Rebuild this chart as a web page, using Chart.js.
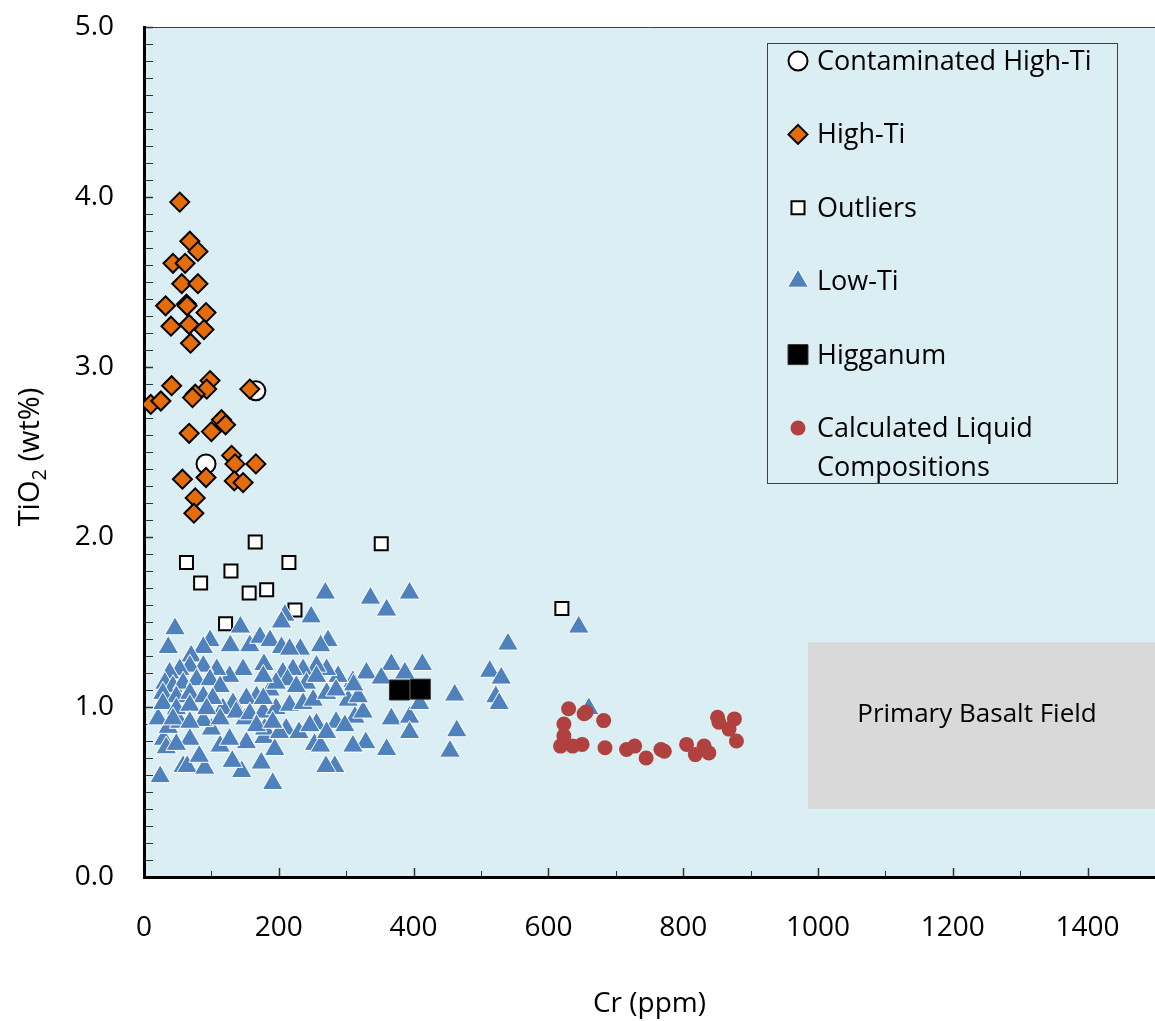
<!DOCTYPE html>
<html>
<head>
<meta charset="utf-8">
<script src="https://cdn.jsdelivr.net/npm/chart.js"></script>
<style>
  html, body { margin: 0; padding: 0; background: #fff; }
  #wrap { width: 1155px; height: 1021px; position: relative; }
</style>
</head>
<body>
<div id="wrap"><canvas id="grafico"></canvas></div>
<script>
// Dados (Cr ppm, TiO2 wt%)
const contamCr   = [166, 92];
const contamTiO2 = [2.86, 2.43];

const highTiCr   = [53, 68, 80, 43, 61, 56, 80, 32, 63, 64, 92, 40, 67, 89, 69, 41, 98, 93, 76, 72, 157, 10, 25, 115, 121, 100, 67, 130, 135, 166, 92, 57, 134, 147, 76, 74];
const highTiTiO2 = [3.97, 3.74, 3.68, 3.61, 3.61, 3.49, 3.49, 3.36, 3.37, 3.36, 3.32, 3.24, 3.25, 3.22, 3.14, 2.89, 2.92, 2.87, 2.84, 2.82, 2.87, 2.78, 2.80, 2.69, 2.66, 2.62, 2.61, 2.48, 2.43, 2.43, 2.35, 2.34, 2.33, 2.32, 2.23, 2.14];

const outlierCr   = [165, 63, 84, 129, 156, 182, 215, 224, 121, 352, 620];
const outlierTiO2 = [1.97, 1.85, 1.73, 1.80, 1.67, 1.69, 1.85, 1.57, 1.49, 1.96, 1.58];

const lowTiCr = [269, 336, 394, 360, 248, 209, 204, 46, 143, 540, 36, 98, 88, 128, 157, 172, 187, 204, 232, 216,
  273, 262, 70, 178, 513, 530, 522, 527, 367, 413, 387, 330, 352, 310, 461, 367, 394, 409, 394, 464,
  454, 360, 329, 310, 283, 270, 191, 145, 131, 174, 24, 58, 64, 90, 82, 152, 178, 194, 253, 262,
  68, 29, 33, 48, 21, 36, 53, 113, 100, 88, 127, 150, 179, 211, 201, 230, 256, 285, 313, 325,
  303, 318, 311, 288, 271, 256, 236, 221, 206, 213, 187, 167, 152, 132, 117, 137, 157, 177, 196, 216,
  236, 251, 271, 285, 241, 256, 226, 196, 177, 147, 127, 108, 88, 68, 53, 38, 31, 43, 58, 78,
  98, 113, 28, 48, 68, 88, 102, 28, 48, 68, 93, 43, 68, 113, 167, 191, 246, 271, 298, 177,
  645, 660];
const lowTiTiO2 = [1.67, 1.64, 1.67, 1.57, 1.53, 1.54, 1.50, 1.46, 1.47, 1.37, 1.35, 1.39, 1.35, 1.36, 1.36, 1.41, 1.39, 1.35, 1.34, 1.34,
  1.39, 1.36, 1.30, 1.25, 1.21, 1.17, 1.06, 1.02, 1.25, 1.25, 1.20, 1.20, 1.17, 1.15, 1.07, 0.93, 0.94, 1.02, 0.85, 0.86,
  0.74, 0.75, 0.79, 0.77, 0.65, 0.65, 0.55, 0.62, 0.68, 0.67, 0.59, 0.65, 0.65, 0.64, 0.71, 0.79, 0.82, 0.75, 0.78, 0.77,
  0.81, 0.81, 0.76, 0.78, 0.93, 0.88, 0.91, 0.77, 0.87, 0.92, 0.81, 0.93, 0.87, 0.87, 0.85, 0.85, 0.90, 0.91, 0.94, 0.97,
  1.04, 1.06, 1.13, 1.18, 1.22, 1.24, 1.22, 1.22, 1.20, 1.16, 1.10, 1.06, 1.05, 1.02, 0.99, 0.97, 0.96, 0.97, 0.99, 1.01,
  1.02, 1.04, 1.08, 1.10, 1.14, 1.18, 1.12, 1.14, 1.18, 1.22, 1.18, 1.22, 1.24, 1.24, 1.22, 1.20, 1.14, 1.12, 1.14, 1.16,
  1.16, 1.12, 1.08, 1.06, 1.08, 1.06, 1.05, 1.02, 0.99, 1.01, 0.99, 0.93, 0.91, 0.93, 0.89, 0.91, 0.89, 0.85, 0.89, 1.05,
  1.47, 0.99];

const higganumCr   = [379, 410];
const higganumTiO2 = [1.10, 1.105];

const calcCr   = [630, 653, 656, 682, 623, 623, 618, 636, 650, 684, 716, 728, 745, 767, 772, 805, 818, 831, 838, 851, 853, 868, 876, 879];
const calcTiO2 = [0.99, 0.96, 0.97, 0.92, 0.90, 0.83, 0.77, 0.77, 0.78, 0.76, 0.75, 0.77, 0.70, 0.75, 0.74, 0.78, 0.72, 0.77, 0.73, 0.94, 0.91, 0.87, 0.93, 0.80];

// Campo basáltico primário
const basaltCr   = [985, 1500];
const basaltTiO2 = [0.40, 1.38];

const eixoX = { min: 0, max: 1500, passo: 200, menor: 100 };
const eixoY = { min: 0, max: 5, passo: 1, menor: 0.1 };

const fonte = "'Open Sans', 'Liberation Sans', sans-serif";

function pares(xs, ys) {
  return xs.map((v, i) => ({ x: v, y: ys[i] }));
}

const estilos = [
  { label: 'Contaminated High-Ti', shape: 'circle', fill: '#FFFFFF', stroke: '#000000', lw: 2, r: 9.5 },
  { label: 'High-Ti', shape: 'diamond', fill: '#E46C0A', stroke: '#000000', lw: 2, r: 9.5 },
  { label: 'Outliers', shape: 'square', fill: '#FFFFFF', stroke: '#000000', lw: 2, r: 6.5 },
  { label: 'Low-Ti', shape: 'triangle', fill: '#4F81BD', stroke: '#FFFFFF', lw: 1, r: 12 },
  { label: 'Higganum', shape: 'square', fill: '#000000', stroke: '#333333', lw: 1, r: 10 },
  { label: ['Calculated Liquid', 'Compositions'], shape: 'circle', fill: '#B0413E', stroke: '#B0413E', lw: 0, r: 7.5 }
];

function desenharMarcador(ctx, s, cx, cy) {
  ctx.save();
  ctx.fillStyle = s.fill;
  ctx.strokeStyle = s.stroke;
  ctx.lineWidth = s.lw;
  ctx.beginPath();
  const r = s.r;
  if (s.shape === 'circle') {
    ctx.arc(cx, cy, r, 0, Math.PI * 2);
  } else if (s.shape === 'diamond') {
    ctx.moveTo(cx, cy - r); ctx.lineTo(cx + r, cy); ctx.lineTo(cx, cy + r); ctx.lineTo(cx - r, cy);
    ctx.closePath();
  } else if (s.shape === 'square') {
    ctx.rect(cx - r, cy - r, 2 * r, 2 * r);
  } else if (s.shape === 'triangle') {
    ctx.moveTo(cx, cy - r); ctx.lineTo(cx + r * 0.866, cy + r / 2); ctx.lineTo(cx - r * 0.866, cy + r / 2);
    ctx.closePath();
  }
  ctx.fill();
  if (s.lw > 0) ctx.stroke();
  ctx.restore();
}

const decoracao = {
  id: 'decoracao',
  beforeDraw(chart) {
    const { ctx, chartArea: a, scales: { x, y } } = chart;
    ctx.save();
    ctx.fillStyle = '#DBEEF3';
    ctx.fillRect(a.left, a.top, a.right - a.left, a.bottom - a.top);

    // Primary Basalt Field
    const x0 = x.getPixelForValue(basaltCr[0]);
    const x1 = x.getPixelForValue(basaltCr[1]);
    const y0 = y.getPixelForValue(basaltTiO2[1]);
    const y1 = y.getPixelForValue(basaltTiO2[0]);
    ctx.fillStyle = '#D9D9D9';
    ctx.fillRect(x0, y0, x1 - x0, y1 - y0);
    ctx.fillStyle = '#000';
    ctx.font = '26px ' + fonte;
    ctx.textAlign = 'center';
    ctx.textBaseline = 'middle';
    ctx.fillText('Primary Basalt Field', 977, (y0 + y1) / 2 - 11);

    // borda superior
    ctx.strokeStyle = '#404040';
    ctx.lineWidth = 1;
    ctx.beginPath();
    ctx.moveTo(a.left, a.top + 0.5);
    ctx.lineTo(a.right, a.top + 0.5);
    ctx.stroke();

    // marcas dos eixos (para dentro)
    ctx.strokeStyle = '#333';
    for (let v = eixoY.min; v <= eixoY.max + 1e-9; v += eixoY.menor) {
      const py = Math.round(y.getPixelForValue(v)) + 0.5;
      const maior = Math.abs(v - Math.round(v)) < 1e-6;
      ctx.lineWidth = maior ? 1.5 : 1;
      ctx.beginPath();
      ctx.moveTo(a.left, py);
      ctx.lineTo(a.left + 9, py);
      ctx.stroke();
    }
    for (let v = eixoX.min + eixoX.menor; v < eixoX.max; v += eixoX.menor) {
      const px = Math.round(x.getPixelForValue(v)) + 0.5;
      const maior = v % eixoX.passo === 0;
      ctx.lineWidth = maior ? 1.5 : 1;
      ctx.beginPath();
      ctx.moveTo(px, a.bottom);
      ctx.lineTo(px, a.bottom - (maior ? 9 : 6));
      ctx.stroke();
    }

    // título do eixo Y com subscrito
    ctx.translate(31, (a.top + a.bottom) / 2 + 5);
    ctx.rotate(-Math.PI / 2);
    ctx.fillStyle = '#000';
    ctx.textBaseline = 'middle';
    ctx.textAlign = 'left';
    const p1 = 'TiO', p3 = ' (wt%)';
    ctx.font = '29px ' + fonte;
    const w1 = ctx.measureText(p1).width;
    const w3 = ctx.measureText(p3).width;
    ctx.font = '20px ' + fonte;
    const w2 = ctx.measureText('2').width;
    const sx = -(w1 + w2 + w3) / 2;
    ctx.font = '29px ' + fonte;
    ctx.fillText(p1, sx, 0);
    ctx.font = '20px ' + fonte;
    ctx.fillText('2', sx + w1, 9);
    ctx.font = '29px ' + fonte;
    ctx.fillText(p3, sx + w1 + w2, 0);
    ctx.restore();
  },
  afterDraw(chart) {
    const ctx = chart.ctx;
    ctx.save();
    // caixa da legenda
    ctx.fillStyle = '#DBEEF3';
    ctx.fillRect(767, 43, 350, 440);
    ctx.strokeStyle = '#404040';
    ctx.lineWidth = 1;
    ctx.strokeRect(767.5, 43.5, 350, 440);
    ctx.font = '27px ' + fonte;
    ctx.fillStyle = '#000';
    ctx.textAlign = 'left';
    ctx.textBaseline = 'alphabetic';
    estilos.forEach((s, i) => {
      const base = 70 + i * 73.4;
      desenharMarcador(ctx, s, 798, base - 9);
      const linhas = Array.isArray(s.label) ? s.label : [s.label];
      linhas.forEach((t, j) => {
        ctx.fillStyle = '#000';
        ctx.fillText(t, 817, base + j * 39);
      });
    });
    ctx.restore();
  }
};

function serie(i, xs, ys, estiloChart, ordem) {
  const s = estilos[i];
  return {
    label: Array.isArray(s.label) ? s.label.join(' ') : s.label,
    data: pares(xs, ys),
    pointStyle: estiloChart,
    pointRadius: estiloChart === 'rect' ? s.r * 1.4142 : s.r,
    backgroundColor: s.fill,
    borderColor: s.stroke,
    borderWidth: s.lw,
    order: ordem
  };
}

new Chart(document.getElementById('grafico'), {
  type: 'scatter',
  data: {
    datasets: [
      serie(0, contamCr, contamTiO2, 'circle', 6),
      serie(1, highTiCr, highTiTiO2, 'rectRot', 5),
      serie(2, outlierCr, outlierTiO2, 'rect', 4),
      serie(3, lowTiCr, lowTiTiO2, 'triangle', 3),
      serie(4, higganumCr, higganumTiO2, 'rect', 2),
      serie(5, calcCr, calcTiO2, 'circle', 1)
    ]
  },
  options: {
    responsive: true,
    maintainAspectRatio: false,
    animation: false,
    layout: { autoPadding: false, padding: { top: 27, right: 0, left: 0, bottom: 0 } },
    plugins: {
      legend: { display: false },
      tooltip: { enabled: false }
    },
    scales: {
      x: {
        type: 'linear',
        min: eixoX.min,
        max: eixoX.max,
        ticks: {
          stepSize: eixoX.passo,
          includeBounds: false,
          autoSkip: false,
          maxRotation: 0,
          color: '#000',
          padding: 34,
          font: { family: fonte, size: 28 },
          callback: v => String(v)
        },
        grid: { display: false, drawTicks: false },
        border: { display: true, color: '#000', width: 3 },
        title: {
          display: true,
          text: 'Cr (ppm)',
          color: '#000',
          font: { family: fonte, size: 28 },
          padding: { top: 0, bottom: 0 }
        },
        afterFit(s) { s.height = 144; s.paddingLeft = 0; s.paddingRight = 0; }
      },
      y: {
        type: 'linear',
        min: eixoY.min,
        max: eixoY.max,
        ticks: {
          stepSize: eixoY.passo,
          color: '#000',
          padding: 30,
          font: { family: fonte, size: 28 },
          callback: v => Number(v).toFixed(1)
        },
        grid: { display: false, drawTicks: false },
        border: { display: true, color: '#000', width: 3 },
        afterFit(s) { s.width = 144; s.paddingTop = 0; s.paddingBottom = 0; }
      }
    }
  },
  plugins: [decoracao]
});
</script>
</body>
</html>
